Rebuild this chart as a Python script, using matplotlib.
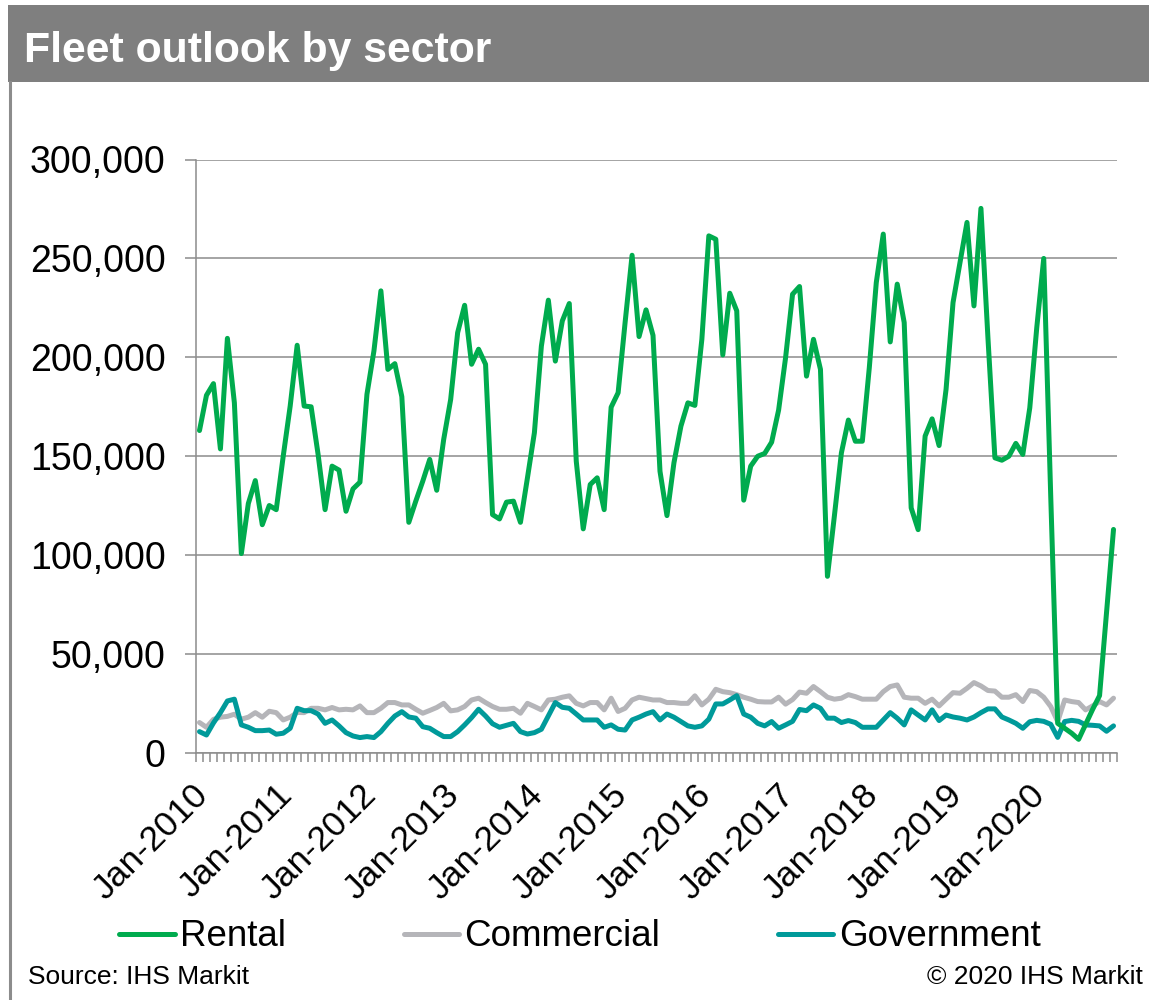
import numpy as np
import pandas as pd
import matplotlib
matplotlib.use("Agg")
import matplotlib.pyplot as plt
from matplotlib.patches import Rectangle
from matplotlib.lines import Line2D
from matplotlib.ticker import FuncFormatter, MultipleLocator
from matplotlib.transforms import ScaledTranslation

plt.rcParams['font.family'] = ['Liberation Sans', 'DejaVu Sans']

# Monthly fleet registrations, Jan-2010 .. Dec-2020 (thousands of vehicles)
months = pd.date_range("2010-01-01", periods=132, freq="MS")

rental_k = [
    163.0, 180.8, 186.7, 153.7, 209.6, 177.0, 100.8, 126.1, 137.7, 115.4, 125.1, 123.0,
    150.0, 175.4, 206.1, 175.4, 175.0, 150.9, 123.0, 145.0, 143.0, 122.2, 133.5, 136.9,
    181.3, 203.2, 233.6, 193.9, 196.8, 180.1, 116.6, 127.3, 137.4, 148.4, 132.8, 158.5,
    178.7, 212.5, 226.3, 196.5, 204.1, 196.5, 120.5, 118.3, 126.8, 127.3, 116.6, 139.0,
    161.9, 205.7, 228.9, 198.1, 218.4, 227.2, 147.5, 113.3, 135.7, 139.1, 123.0, 174.8,
    182.1, 217.6, 251.6, 210.5, 224.0, 211.1, 142.4, 120.0, 146.7, 165.2, 177.0, 175.7,
    209.1, 261.4, 259.7, 201.2, 232.4, 223.5, 127.8, 145.0, 150.0, 151.4, 157.1, 173.3,
    199.8, 231.9, 235.8, 190.5, 209.1, 193.9, 89.3, 120.0, 151.7, 168.3, 157.6, 157.6,
    194.8, 237.8, 262.3, 207.8, 237.0, 217.6, 123.9, 112.9, 160.2, 168.9, 155.4, 183.8,
    227.7, 247.9, 268.2, 226.0, 275.3, 210.0, 149.2, 148.0, 150.0, 156.5, 150.9, 174.5,
    215.0, 250.0, 130.0, 15.0, 12.5, 10.0, 6.9, 14.5, 22.0, 29.0, 71.0, 113.0,
]

commercial_k = [
    15.4, 13.0, 17.0, 18.1, 18.5, 19.6, 17.1, 18.1, 20.4, 18.1, 21.1, 20.4,
    16.7, 18.1, 20.5, 20.4, 22.6, 22.6, 21.8, 23.0, 21.8, 22.1, 21.8, 23.8,
    20.4, 20.4, 22.6, 25.5, 25.5, 24.3, 24.3, 22.1, 20.1, 21.5, 23.0, 25.1,
    21.3, 21.8, 23.5, 26.8, 27.7, 25.5, 23.5, 22.1, 22.1, 22.6, 20.1, 25.1,
    23.5, 21.8, 26.8, 27.2, 28.2, 28.9, 25.1, 23.8, 25.5, 25.5, 21.8, 27.7,
    21.0, 22.6, 26.8, 28.2, 27.5, 26.8, 26.8, 25.5, 25.5, 25.1, 25.1, 28.9,
    24.3, 27.2, 32.2, 31.0, 30.5, 29.5, 28.2, 27.2, 26.0, 25.8, 25.8, 28.2,
    24.7, 27.0, 30.8, 30.2, 33.6, 31.0, 28.2, 27.2, 27.7, 29.5, 28.5, 27.2,
    27.2, 27.2, 31.0, 33.6, 34.4, 28.2, 27.7, 27.7, 25.1, 27.2, 23.8, 27.2,
    30.5, 30.2, 32.7, 35.6, 33.9, 31.6, 31.3, 28.2, 28.2, 29.5, 26.0, 31.6,
    31.0, 28.2, 23.5, 15.9, 26.8, 26.0, 25.5, 21.8, 23.8, 26.0, 24.3, 27.7,
]

government_k = [
    10.8, 9.1, 15.2, 20.4, 26.3, 27.2, 14.2, 13.0, 11.3, 11.3, 11.6, 9.5,
    10.0, 12.5, 22.6, 21.4, 21.4, 19.7, 15.0, 16.7, 13.7, 10.3, 8.6, 7.8,
    8.3, 7.8, 10.8, 15.0, 18.7, 20.9, 18.2, 17.6, 13.3, 12.5, 10.3, 8.3,
    8.3, 10.8, 14.2, 17.9, 22.1, 18.7, 14.8, 13.0, 14.0, 15.0, 10.8, 9.6,
    10.3, 12.0, 18.7, 25.5, 23.1, 22.6, 19.7, 16.7, 16.7, 16.7, 13.0, 14.2,
    12.0, 11.6, 16.7, 18.1, 19.7, 20.9, 16.7, 19.7, 18.1, 15.9, 13.7, 13.0,
    13.7, 17.1, 24.8, 24.8, 26.8, 29.0, 19.7, 18.1, 15.0, 13.7, 15.9, 12.5,
    14.2, 16.0, 22.0, 21.4, 24.3, 22.6, 17.6, 17.6, 15.4, 16.4, 15.4, 13.0,
    13.0, 13.0, 16.7, 20.4, 17.6, 14.2, 21.8, 19.2, 16.7, 21.8, 16.4, 19.2,
    18.2, 17.6, 16.7, 18.2, 20.4, 22.3, 22.3, 18.2, 16.7, 15.0, 12.5, 15.8,
    16.5, 16.0, 14.5, 7.9, 15.9, 16.5, 16.0, 14.2, 14.0, 13.7, 11.0, 13.7,
]

series_names = ["Rental", "Commercial", "Government"]
series_colors = ["#00AB4E", "#B5B5B9", "#009A9A"]
tick_labels = ["Jan-2010", "Jan-2011", "Jan-2012", "Jan-2013", "Jan-2014", "Jan-2015",
               "Jan-2016", "Jan-2017", "Jan-2018", "Jan-2019", "Jan-2020"]

W, H = 1149, 1000
fig = plt.figure(figsize=(W / 100, H / 100), dpi=100)

# Header band and frame
fig.patches.append(Rectangle((8 / W, 1 - 82 / H), (W - 8) / W, 77 / H,
                             transform=fig.transFigure, facecolor="#7F7F7F",
                             edgecolor="none", zorder=0))
fig.lines.append(Line2D([9.5 / W, 9.5 / W], [0, 1 - 82 / H], transform=fig.transFigure,
                        color="#8C8C8C", linewidth=2.2))
fig.text(24 / W, 1 - 62 / H, "Fleet outlook by sector", color="white",
         fontsize=30.8, fontweight="bold", ha="left", va="baseline")

ax = fig.add_axes([196 / W, 1 - 753 / H, (1117 - 196) / W, (753 - 159.5) / H])

x = np.arange(len(months))
data = [np.array(rental_k) * 1000, np.array(commercial_k) * 1000, np.array(government_k) * 1000]
zorders = [5, 3, 4]
for vals, name, col, z in zip(data, series_names, series_colors, zorders):
    ax.plot(x, vals, color=col, linewidth=3.6, label=name, zorder=z,
            solid_joinstyle="round", solid_capstyle="round")

grid_col = "#8C8C8C"
ax.set_xlim(-0.5, len(months) - 0.5)
ax.set_ylim(0, 300000)
ax.yaxis.set_major_locator(MultipleLocator(50000))
ax.yaxis.set_major_formatter(FuncFormatter(lambda v, p: f"{int(v):,}"))
ax.grid(axis="y", color=grid_col, linewidth=1.1, zorder=1)
ax.set_axisbelow(True)

for s in ["top", "right"]:
    ax.spines[s].set_visible(False)
for s in ["left", "bottom"]:
    ax.spines[s].set_color(grid_col)
    ax.spines[s].set_linewidth(1.1)

ax.tick_params(axis="y", length=8, width=1.1, color=grid_col, pad=14, labelsize=27,
               labelcolor="black")

label_pos = [i for i in x if months[i].month == 1]
ax.set_xticks(label_pos)
ax.set_xticklabels(tick_labels, rotation=45, ha="right", rotation_mode="anchor")
ax.set_xticks(np.arange(-0.5, len(months)), minor=True)
ax.tick_params(axis="x", which="major", length=0, pad=18, labelsize=25.5,
               labelcolor="black")
ax.tick_params(axis="x", which="minor", length=6.5, width=1.1, color=grid_col)
shift = ScaledTranslation(-8 / 100, 0, fig.dpi_scale_trans)
for lbl in ax.get_xticklabels():
    lbl.set_transform(lbl.get_transform() + shift)

handles, labels = ax.get_legend_handles_labels()
fig.legend(handles, labels, loc="center", bbox_to_anchor=(580 / W, 1 - 937 / H),
           ncol=3, frameon=False, fontsize=26.5, handlelength=1.5,
           handletextpad=0.15, columnspacing=3.2, borderpad=0, borderaxespad=0)

fig.text(28 / W, 1 - 984 / H, "Source: IHS Markit", fontsize=19, ha="left", va="baseline")
fig.text(1143 / W, 1 - 984 / H, "\u00a9 2020 IHS Markit", fontsize=19, ha="right",
         va="baseline")

fig.savefig("out.png", dpi=100, facecolor="white")
